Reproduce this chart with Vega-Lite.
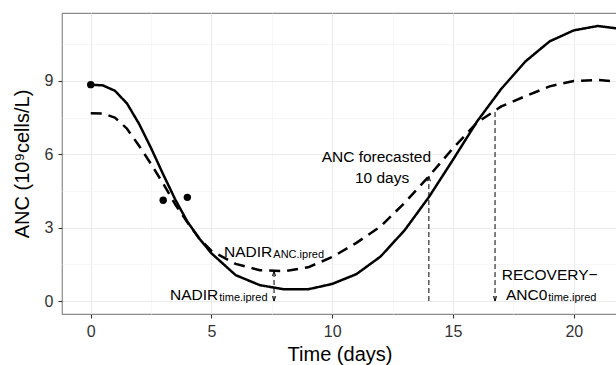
{
  "$schema": "https://vega.github.io/schema/vega-lite/v6.json",
  "width": 555,
  "height": 301,
  "autosize": {"type": "none"},
  "padding": {"left": 62, "top": 13, "right": 0, "bottom": 51},
  "background": "white",
  "config": {
    "view": {"stroke": "#8c8c8c", "strokeWidth": 1.2},
    "font": "Liberation Sans",
    "text": {"font": "Liberation Sans"}
  },
  "datasets": {
    "curves": [
      {"t": 0, "v": 8.85, "series": "ipred"}, {"t": 0.5, "v": 8.82, "series": "ipred"}, {"t": 1, "v": 8.6, "series": "ipred"},
      {"t": 1.5, "v": 8.08, "series": "ipred"}, {"t": 2, "v": 7.25, "series": "ipred"}, {"t": 2.5, "v": 6.25, "series": "ipred"},
      {"t": 3, "v": 5.18, "series": "ipred"}, {"t": 3.5, "v": 4.15, "series": "ipred"}, {"t": 4, "v": 3.25, "series": "ipred"},
      {"t": 4.5, "v": 2.55, "series": "ipred"}, {"t": 5, "v": 1.95, "series": "ipred"}, {"t": 6, "v": 1.06, "series": "ipred"},
      {"t": 7, "v": 0.65, "series": "ipred"}, {"t": 8, "v": 0.48, "series": "ipred"}, {"t": 9, "v": 0.48, "series": "ipred"},
      {"t": 10, "v": 0.7, "series": "ipred"}, {"t": 11, "v": 1.1, "series": "ipred"}, {"t": 12, "v": 1.82, "series": "ipred"},
      {"t": 13, "v": 2.9, "series": "ipred"}, {"t": 14, "v": 4.25, "series": "ipred"}, {"t": 15, "v": 5.78, "series": "ipred"},
      {"t": 16, "v": 7.35, "series": "ipred"}, {"t": 17, "v": 8.68, "series": "ipred"}, {"t": 18, "v": 9.8, "series": "ipred"},
      {"t": 19, "v": 10.62, "series": "ipred"}, {"t": 20, "v": 11.07, "series": "ipred"}, {"t": 21, "v": 11.25, "series": "ipred"},
      {"t": 22, "v": 11.12, "series": "ipred"},
      {"t": 0, "v": 7.68, "series": "pred"}, {"t": 0.5, "v": 7.67, "series": "pred"}, {"t": 1, "v": 7.5, "series": "pred"},
      {"t": 1.5, "v": 7.05, "series": "pred"}, {"t": 2, "v": 6.35, "series": "pred"}, {"t": 2.5, "v": 5.6, "series": "pred"},
      {"t": 3, "v": 4.8, "series": "pred"}, {"t": 3.5, "v": 3.95, "series": "pred"}, {"t": 4, "v": 3.22, "series": "pred"},
      {"t": 4.5, "v": 2.55, "series": "pred"}, {"t": 5, "v": 2.05, "series": "pred"}, {"t": 6, "v": 1.52, "series": "pred"},
      {"t": 7, "v": 1.26, "series": "pred"}, {"t": 8, "v": 1.22, "series": "pred"}, {"t": 9, "v": 1.38, "series": "pred"},
      {"t": 10, "v": 1.8, "series": "pred"}, {"t": 11, "v": 2.38, "series": "pred"}, {"t": 12, "v": 3.05, "series": "pred"},
      {"t": 13, "v": 4.02, "series": "pred"}, {"t": 14, "v": 5.1, "series": "pred"}, {"t": 15, "v": 6.25, "series": "pred"},
      {"t": 16, "v": 7.3, "series": "pred"}, {"t": 17, "v": 7.96, "series": "pred"}, {"t": 18, "v": 8.38, "series": "pred"},
      {"t": 19, "v": 8.78, "series": "pred"}, {"t": 20, "v": 9.0, "series": "pred"}, {"t": 21, "v": 9.04, "series": "pred"},
      {"t": 22, "v": 8.95, "series": "pred"}
    ],
    "obs": [
      {"t": 0, "v": 8.85}, {"t": 3, "v": 4.12}, {"t": 4, "v": 4.24}
    ],
    "segments": [
      {"t": 7.59, "v": 0, "v2": 1.22},
      {"t": 14, "v": 0, "v2": 5.1},
      {"t": 16.74, "v": 0, "v2": 7.77}
    ],
    "heads": [
      {"t": 7.59, "v": 1.22, "dir": "up"},
      {"t": 7.59, "v": 0, "dir": "down"},
      {"t": 14, "v": 5.1, "dir": "up"},
      {"t": 16.74, "v": 0, "dir": "down"}
    ],
    "labels": [
      {"t": 5.52, "v": 1.81, "label": "NADIR", "kind": "main"},
      {"t": 7.56, "v": 1.75, "label": "ANC.ipred", "kind": "sub"},
      {"t": 3.28, "v": 0.06, "label": "NADIR", "kind": "main"},
      {"t": 5.32, "v": 0.0, "label": "time.ipred", "kind": "sub"},
      {"t": 9.56, "v": 5.7, "label": "ANC forecasted", "kind": "main"},
      {"t": 10.94, "v": 4.82, "label": "10 days", "kind": "main"},
      {"t": 17.02, "v": 0.86, "label": "RECOVERY−", "kind": "main"},
      {"t": 17.19, "v": 0.05, "label": "ANC0", "kind": "main"},
      {"t": 18.94, "v": -0.01, "label": "time.ipred", "kind": "sub"}
    ]
  },
  "layer": [
    {
      "data": {"name": "curves"},
      "mark": {"type": "line", "color": "black", "strokeWidth": 2.5, "clip": true, "strokeCap": "butt", "strokeJoin": "round"},
      "encoding": {
        "x": {
          "field": "t", "type": "quantitative",
          "scale": {"domain": [-1.19, 21.79], "nice": false, "zero": false},
          "axis": {
            "title": "Time (days)",
            "values": [0, 2.5, 5, 7.5, 10, 12.5, 15, 17.5, 20],
            "labelExpr": "datum.value % 5 === 0 ? datum.label : ''",
            "grid": true,
            "gridColor": {"condition": {"test": "datum.value % 5 === 0", "value": "#ebebeb"}, "value": "#f3f3f3"},
            "gridWidth": {"condition": {"test": "datum.value % 5 === 0", "value": 1.1}, "value": 0.7},
            "tickOpacity": {"condition": {"test": "datum.value % 5 === 0", "value": 1}, "value": 0},
            "domain": false,
            "tickColor": "#333333", "tickSize": 4, "tickWidth": 1.1,
            "labelFontSize": 16, "labelColor": "#333333", "labelPadding": 5, "labelFont": "Liberation Sans",
            "titleFontSize": 20, "titleFontWeight": "normal", "titleColor": "black", "titlePadding": 5, "titleFont": "Liberation Sans"
          }
        },
        "y": {
          "field": "v", "type": "quantitative",
          "scale": {"domain": [-0.53, 11.78], "nice": false, "zero": false},
          "axis": {
            "title": "ANC (10⁹cells/L)",
            "values": [0, 1.5, 3, 4.5, 6, 7.5, 9, 10.5],
            "labelExpr": "datum.value % 3 === 0 ? datum.label : ''",
            "grid": true,
            "gridColor": {"condition": {"test": "datum.value % 3 === 0", "value": "#ebebeb"}, "value": "#f3f3f3"},
            "gridWidth": {"condition": {"test": "datum.value % 3 === 0", "value": 1.1}, "value": 0.7},
            "tickOpacity": {"condition": {"test": "datum.value % 3 === 0", "value": 1}, "value": 0},
            "domain": false,
            "tickColor": "#333333", "tickSize": 4, "tickWidth": 1.1,
            "labelFontSize": 16, "labelColor": "#333333", "labelPadding": 5, "labelFont": "Liberation Sans",
            "titleFontSize": 20, "titleFontWeight": "normal", "titleColor": "black", "titlePadding": 12, "titleFont": "Liberation Sans"
          }
        },
        "detail": {"field": "series"},
        "strokeDash": {
          "field": "series", "type": "nominal",
          "scale": {"domain": ["ipred", "pred"], "range": [[1, 0], [11, 7]]},
          "legend": null
        }
      }
    },
    {
      "data": {"name": "segments"},
      "mark": {"type": "rule", "color": "black", "strokeWidth": 1, "strokeDash": [5, 3]},
      "encoding": {
        "x": {"field": "t", "type": "quantitative"},
        "y": {"field": "v", "type": "quantitative"},
        "y2": {"field": "v2"}
      }
    },
    {
      "data": {"name": "heads"},
      "transform": [{"filter": "datum.dir === 'up'"}],
      "mark": {"type": "point", "shape": "M -0.6 1.8 L 0 0 L 0.6 1.8", "filled": false, "stroke": "black", "strokeWidth": 0.9, "size": 30, "opacity": 1},
      "encoding": {
        "x": {"field": "t", "type": "quantitative"},
        "y": {"field": "v", "type": "quantitative"}
      }
    },
    {
      "data": {"name": "heads"},
      "transform": [{"filter": "datum.dir === 'down'"}],
      "mark": {"type": "point", "shape": "M -0.6 -1.8 L 0 0 L 0.6 -1.8", "filled": false, "stroke": "black", "strokeWidth": 0.9, "size": 30, "opacity": 1},
      "encoding": {
        "x": {"field": "t", "type": "quantitative"},
        "y": {"field": "v", "type": "quantitative"}
      }
    },
    {
      "data": {"name": "obs"},
      "mark": {"type": "circle", "color": "black", "size": 55, "opacity": 1},
      "encoding": {
        "x": {"field": "t", "type": "quantitative"},
        "y": {"field": "v", "type": "quantitative"}
      }
    },
    {
      "data": {"name": "labels"},
      "transform": [{"filter": "datum.kind === 'main'"}],
      "mark": {"type": "text", "align": "left", "baseline": "alphabetic", "fontSize": 15.5, "color": "black", "font": "Liberation Sans"},
      "encoding": {
        "x": {"field": "t", "type": "quantitative"},
        "y": {"field": "v", "type": "quantitative"},
        "text": {"field": "label"}
      }
    },
    {
      "data": {"name": "labels"},
      "transform": [{"filter": "datum.kind === 'sub'"}],
      "mark": {"type": "text", "align": "left", "baseline": "alphabetic", "fontSize": 11, "color": "black", "font": "Liberation Sans"},
      "encoding": {
        "x": {"field": "t", "type": "quantitative"},
        "y": {"field": "v", "type": "quantitative"},
        "text": {"field": "label"}
      }
    }
  ]
}
